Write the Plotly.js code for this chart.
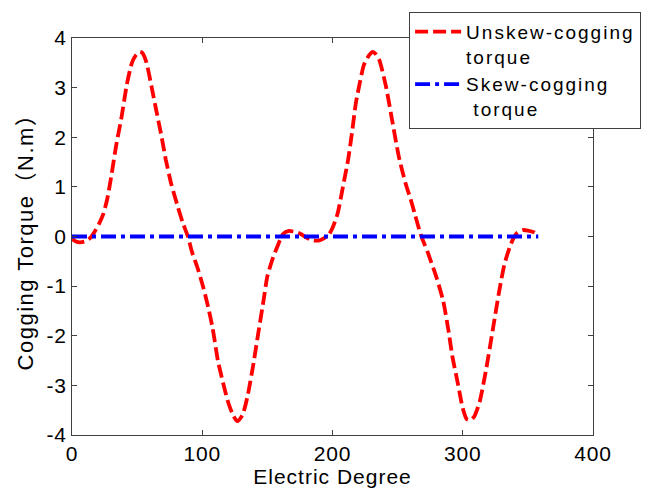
<!DOCTYPE html>
<html>
<head>
<meta charset="utf-8">
<script src="https://cdn.plot.ly/plotly-3.0.1.min.js"></script>
<style>
html,body{margin:0;padding:0;background:#fff;}
#chart{width:664px;height:493px;}
.legendtext{letter-spacing:2px;}
.xtitle{letter-spacing:1px;}
.ytitle{letter-spacing:1.5px;}
.xtick text,.ytick text{letter-spacing:0.8px;}
</style>
</head>
<body>
<div id="chart"></div>
<script>
var unskewDeg = [0,3,6,10,14,17,21,24,27,30,34,38,42,46,49,52,54,57,61,65,69,72,76,81,85,89,92,96,100,104,108,112,116,120,124,127,131,135,139,143,147,150,154,158,162,166,170,175,180,185,190,194,197,200,204,208,212,215,218,221,224,228,231,233,236,241,246,251,256,260,263,268,273,280,285,289,292,296,300,303,306,309,313,318,323,328,332,336,339,342,346,350,355,358];
var unskewTorque = [-0.05,-0.10,-0.12,-0.10,-0.03,0.08,0.27,0.45,0.75,1.19,1.85,2.40,3.05,3.50,3.65,3.72,3.70,3.52,3.03,2.50,1.98,1.55,1.08,0.62,0.28,0.00,-0.30,-0.60,-0.95,-1.36,-1.85,-2.50,-2.95,-3.35,-3.62,-3.72,-3.59,-3.19,-2.61,-1.95,-1.30,-0.80,-0.45,-0.18,0.05,0.11,0.10,0.06,-0.02,-0.08,-0.08,-0.03,0.03,0.17,0.47,1.00,1.55,2.10,2.70,3.10,3.45,3.65,3.72,3.68,3.55,3.03,2.31,1.60,1.08,0.75,0.47,0.02,-0.31,-0.84,-1.30,-1.89,-2.41,-2.93,-3.46,-3.68,-3.70,-3.62,-3.33,-2.67,-1.89,-1.10,-0.56,-0.22,-0.03,0.08,0.13,0.12,0.08,0.02];
var skewDeg = [0,90,180,270,358];
var skewTorque = [0,0,0,0,0];
var xTickVals = [0,100,200,300,400];
var xTickText = ['0','100','200','300','400'];
var yTickVals = [-4,-3,-2,-1,0,1,2,3,4];
var yTickText = ['-4','-3','-2','-1','0','1','2','3','4'];
var seriesNames = ['Unskew-cogging<br>torque','Skew-cogging<br> torque'];

var font = 'Arial, "Liberation Sans", "Noto Sans CJK SC", sans-serif';
var traces = [
  {x: unskewDeg, y: unskewTorque, type:'scatter', mode:'lines', name: seriesNames[0],
   line:{color:'#FF0000', width:3.8, dash:'13px,5px', shape:'spline', smoothing:0.6}},
  {x: skewDeg, y: skewTorque, type:'scatter', mode:'lines', name: seriesNames[1],
   line:{color:'#0000FF', width:3.8, dash:'15px,5px,4px,5px'}}
];
var axisCommon = {showline:true, linecolor:'#404040', linewidth:1, mirror:'ticks', ticks:'inside', ticklen:5, tickcolor:'#404040',
  showgrid:false, zeroline:false, tickfont:{family:font, size:21, color:'#000'}};
var layout = {
  width:664, height:493,
  margin:{l:72, r:71, t:27, b:58},
  paper_bgcolor:'#fff', plot_bgcolor:'#fff',
  font:{family:font, color:'#000'},
  xaxis: Object.assign({}, axisCommon, {range:[0,400], tickvals:xTickVals, ticktext:xTickText,
    title:{text:'Electric Degree', font:{family:font, size:21, color:'#000'}, standoff:2}}),
  yaxis: Object.assign({}, axisCommon, {range:[-4,4], tickvals:yTickVals, ticktext:yTickText,
    title:{text:'Cogging Torque（N.m）', font:{family:font, size:22, color:'#000'}, standoff:6}}),
  showlegend:true,
  legend:{x:0.647, y:1.066, xanchor:'left', yanchor:'top', valign:'top', bgcolor:'#fff', bordercolor:'#404040', borderwidth:1,
    itemwidth:46, font:{family:font, size:19, color:'#000'}}
};
Plotly.newPlot('chart', traces, layout, {staticPlot:true, displayModeBar:false});
</script>
</body>
</html>
